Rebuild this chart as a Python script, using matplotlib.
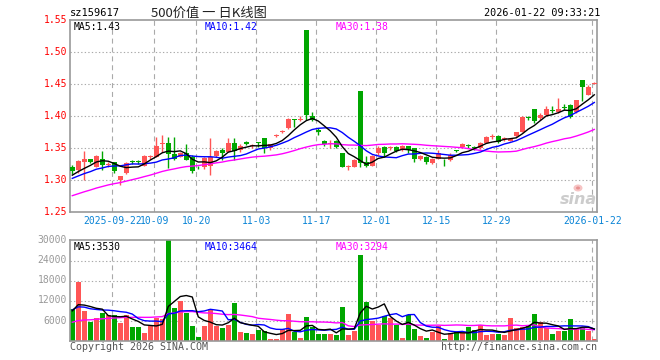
import numpy as np
import matplotlib
matplotlib.use('Agg')
import matplotlib.pyplot as plt
from matplotlib.patches import Rectangle, Ellipse

W, H = 660, 360

# closes / volumes before the visible window, only used to seed the moving averages
pre_close = [1.238, 1.242, 1.245, 1.248, 1.250, 1.252, 1.255, 1.257, 1.258, 1.260,
             1.262, 1.262, 1.265, 1.268, 1.272, 1.276, 1.280, 1.283, 1.285, 1.291,
             1.292, 1.296, 1.298, 1.300, 1.304, 1.302, 1.308, 1.305, 1.311]
pre_vol = [2800, 3300, 4000, 2700, 3400, 4300, 3700, 3000, 3900, 4800,
           3500, 3200, 4200, 3500, 3700, 4000, 3400, 3900, 4200, 4400,
           8200, 9800, 10500, 9000, 10000, 8300, 9500, 7800, 9500]

opens = [1.321, 1.316, 1.328, 1.333, 1.321, 1.333, 1.324, 1.328, 1.300, 1.311,
         1.329, 1.329, 1.323, 1.336, 1.337, 1.357, 1.358, 1.341, 1.337, 1.342,
         1.336, 1.321, 1.321, 1.322, 1.338, 1.348, 1.345, 1.359, 1.348, 1.360,
         1.353, 1.359, 1.366, 1.350, 1.369, 1.376, 1.381, 1.396, 1.394, 1.535,
         1.400, 1.379, 1.361, 1.356, 1.362, 1.342, 1.321, 1.321, 1.439, 1.328,
         1.323, 1.342, 1.352, 1.350, 1.352, 1.347, 1.353, 1.350, 1.333, 1.337,
         1.327, 1.334, 1.332, 1.331, 1.347, 1.352, 1.354, 1.352, 1.350, 1.359,
         1.367, 1.369, 1.364, 1.362, 1.369, 1.376, 1.398, 1.411, 1.398, 1.402,
         1.410, 1.406, 1.414, 1.418, 1.406, 1.457, 1.434, 1.451]
highs = [1.324, 1.331, 1.346, 1.334, 1.339, 1.346, 1.328, 1.329, 1.307, 1.328,
         1.332, 1.332, 1.339, 1.340, 1.367, 1.371, 1.367, 1.367, 1.344, 1.357,
         1.340, 1.323, 1.337, 1.366, 1.347, 1.350, 1.366, 1.366, 1.357, 1.361,
         1.356, 1.360, 1.366, 1.357, 1.372, 1.379, 1.397, 1.396, 1.400, 1.535,
         1.407, 1.381, 1.363, 1.363, 1.363, 1.343, 1.324, 1.333, 1.439, 1.338,
         1.339, 1.353, 1.353, 1.354, 1.353, 1.355, 1.354, 1.351, 1.340, 1.338,
         1.335, 1.347, 1.333, 1.343, 1.348, 1.358, 1.357, 1.354, 1.360, 1.369,
         1.372, 1.371, 1.367, 1.365, 1.376, 1.400, 1.400, 1.412, 1.405, 1.416,
         1.416, 1.428, 1.420, 1.419, 1.426, 1.457, 1.449, 1.453]
lows = [1.310, 1.312, 1.300, 1.327, 1.320, 1.316, 1.320, 1.311, 1.292, 1.310,
        1.325, 1.325, 1.322, 1.333, 1.336, 1.345, 1.319, 1.332, 1.336, 1.331,
        1.312, 1.318, 1.318, 1.308, 1.336, 1.332, 1.344, 1.331, 1.345, 1.355,
        1.351, 1.352, 1.342, 1.348, 1.368, 1.374, 1.380, 1.384, 1.392, 1.394,
        1.393, 1.371, 1.353, 1.350, 1.350, 1.320, 1.316, 1.320, 1.320, 1.320,
        1.322, 1.340, 1.337, 1.347, 1.345, 1.346, 1.342, 1.328, 1.332, 1.326,
        1.326, 1.333, 1.322, 1.330, 1.344, 1.351, 1.350, 1.348, 1.349, 1.358,
        1.364, 1.358, 1.362, 1.361, 1.368, 1.375, 1.395, 1.389, 1.395, 1.400,
        1.405, 1.405, 1.410, 1.398, 1.405, 1.424, 1.433, 1.450]
closes = [1.314, 1.330, 1.333, 1.328, 1.338, 1.324, 1.326, 1.315, 1.307, 1.327,
          1.328, 1.328, 1.338, 1.337, 1.354, 1.358, 1.341, 1.334, 1.343, 1.332,
          1.314, 1.320, 1.335, 1.337, 1.346, 1.343, 1.359, 1.346, 1.354, 1.357,
          1.354, 1.358, 1.350, 1.356, 1.370, 1.377, 1.396, 1.395, 1.396, 1.402,
          1.394, 1.376, 1.357, 1.357, 1.352, 1.321, 1.322, 1.332, 1.327, 1.323,
          1.338, 1.351, 1.342, 1.351, 1.346, 1.353, 1.347, 1.333, 1.338, 1.328,
          1.334, 1.342, 1.331, 1.340, 1.346, 1.357, 1.353, 1.351, 1.359, 1.368,
          1.368, 1.360, 1.365, 1.364, 1.375, 1.399, 1.397, 1.393, 1.402, 1.412,
          1.409, 1.412, 1.413, 1.399, 1.426, 1.445, 1.446, 1.452]
volumes = [9650, 17600, 8850, 5650, 6850, 8350, 7850, 7650, 5200, 7650,
           4200, 4200, 2400, 4450, 6850, 6650, 31000, 9850, 11900, 8350,
           4450, 1200, 4450, 9450, 4450, 3900, 4700, 11300, 2700, 2400,
           2000, 3200, 3000, 500, 500, 3500, 7950, 2700, 900, 7150,
           4200, 2000, 2000, 2000, 1600, 10100, 1600, 2800, 25600, 11500,
           6000, 4600, 7500, 6800, 4600, 900, 7700, 3400, 1500, 850,
           2600, 4300, 450, 2250, 2600, 2250, 4100, 3200, 4700, 1800,
           2150, 2000, 1800, 6800, 3850, 4150, 4700, 8130, 5500, 3800,
           1890, 2800, 3000, 6600, 3800, 3950, 2800, 500]

tick_pos = [7, 14, 21, 31, 41, 51, 61, 71, 87]
tick_labels = ['2025-09-22', '10-09', '10-20', '11-03', '11-17',
               '12-01', '12-15', '12-29', '2026-01-22']
price_ticks = [1.25, 1.30, 1.35, 1.40, 1.45, 1.50, 1.55]
vol_ticks = [6000, 12000, 18000, 24000, 30000]

RED = '#ff5555'
GREEN = '#00a600'
GRID = '#aaaaaa'
MONO = 'DejaVu Sans Mono'


def moving_avg(pre, vals, n):
    s = np.array(pre + vals, dtype=float)
    out = np.convolve(s, np.ones(n) / n, mode='valid')
    return out[-len(vals):]


n = len(closes)
x = np.arange(n)
ma_p = {k: moving_avg(pre_close, closes, k) for k in (5, 10, 30)}
ma_v = {k: moving_avg(pre_vol, volumes, k) for k in (5, 10, 30)}

fig = plt.figure(figsize=(W / 100, H / 100), dpi=100)
fig.patch.set_facecolor('white')


def px_axes(l, t, r, b):
    return fig.add_axes([l / W, 1 - b / H, (r - l) / W, (b - t) / H])


def px_text(px, py, s, **kw):
    kw.setdefault('family', MONO)
    kw.setdefault('fontsize', 7)
    kw.setdefault('va', 'center')
    fig.text(px / W, 1 - py / H, s, **kw)


ax = px_axes(70, 20.3, 597, 212.3)
axv = px_axes(70, 240, 597, 340.7)

xlim = (-0.38, 87.45)
grid_x = [p - 0.33 for p in tick_pos]

for a in (ax, axv):
    a.set_xlim(*xlim)
    a.set_xticks([])
    a.set_yticks([])
    for sp in a.spines.values():
        sp.set_color('#999999')
        sp.set_linewidth(1.2)
    for gx in grid_x:
        a.axvline(gx, color=GRID, lw=0.8, ls=(0, (4.5, 3.5)), zorder=0)

# faint sina watermark (behind the candles)
fig.add_artist(Ellipse((578 / W, 1 - 188 / H), 9 / W, 7 / H,
                       facecolor='#f6c4c4', edgecolor='none', zorder=0.5))
fig.add_artist(Ellipse((578 / W, 1 - 188 / H), 4 / W, 3 / H,
                       facecolor='#e89090', edgecolor='none', zorder=0.6))
px_text(597, 199, 'sina', color='#cccccc', ha='right', family='DejaVu Sans',
        fontsize=11.5, style='italic', weight='bold', zorder=0.5)

# price panel
ax.set_ylim(1.25, 1.55)
ax.patch.set_alpha(0)
for p in price_ticks[1:-1]:
    ax.axhline(p, color=GRID, lw=0.8, ls=(0, (1.2, 2.0)), zorder=0)

for i in range(n):
    o, h, l, c = opens[i], highs[i], lows[i], closes[i]
    col = RED if c >= o else GREEN
    ax.vlines(i, l, h, color=col, lw=1.0, zorder=2)
    bottom = min(o, c)
    height = max(abs(c - o), 0.0015)
    ax.add_patch(Rectangle((i - 0.38, bottom), 0.76, height, facecolor=col,
                           edgecolor='none', zorder=3))

ax.plot(x, ma_p[30], color='#ff00ff', lw=1.0, zorder=4)
ax.plot(x, ma_p[10], color='#0000ff', lw=1.0, zorder=4)
ax.plot(x, ma_p[5], color='black', lw=1.0, zorder=4)

# volume panel
axv.set_ylim(0, 30200)
for v in vol_ticks[:-1]:
    axv.axhline(v, color=GRID, lw=0.8, ls=(0, (1.2, 2.0)), zorder=0)
vol_cols = [RED if closes[i] >= opens[i] else GREEN for i in range(n)]
axv.bar(x, volumes, width=0.8, color=vol_cols, zorder=2)
axv.plot(x, ma_v[30], color='#ff00ff', lw=1.0, zorder=4)
axv.plot(x, ma_v[10], color='#0000ff', lw=1.0, zorder=4)
axv.plot(x, ma_v[5], color='black', lw=1.0, zorder=4)

# axis labels
for p in price_ticks:
    py = 20.3 + (1.55 - p) / 0.05 * 32
    px_text(67, py, '%.2f' % p, color='#ff0000', ha='right')
for v in vol_ticks:
    py = 340.7 - v / 30000 * 100.7
    px_text(67, py, str(v), color='#999999', ha='right')
for gx, lab in zip(grid_x, tick_labels):
    px = 70 + (gx - xlim[0]) / (xlim[1] - xlim[0]) * 527
    px_text(px, 221.5, lab, color='#0a84d6', ha='center')

# header and legends
px_text(70, 13, 'sz159617', color='black', ha='left', fontsize=7.5)
px_text(151, 13, '500价值 一 日K线图', color='#222222', ha='left',
        family=['Noto Sans CJK SC', 'DejaVu Sans'], fontsize=9.5)
px_text(600, 13, '2026-01-22 09:33:21', color='black', ha='right', fontsize=7.3)

px_text(74, 27, 'MA5:%.2f' % ma_p[5][-1], color='black', ha='left')
px_text(205, 27, 'MA10:%.2f' % ma_p[10][-1], color='#0000ff', ha='left')
px_text(336, 27, 'MA30:%.2f' % ma_p[30][-1], color='#ff00ff', ha='left')

px_text(74, 246.5, 'MA5:%d' % round(ma_v[5][-1]), color='black', ha='left')
px_text(205, 246.5, 'MA10:%d' % round(ma_v[10][-1]), color='#0000ff', ha='left')
px_text(336, 246.5, 'MA30:%d' % round(ma_v[30][-1]), color='#ff00ff', ha='left')

px_text(70, 346.5, 'Copyright 2026 SINA.COM', color='#555555', ha='left', fontsize=7.2)
px_text(597, 346.5, 'http://finance.sina.com.cn', color='#555555', ha='right', fontsize=7.2)

fig.savefig('out.png', dpi=100, facecolor='white')
